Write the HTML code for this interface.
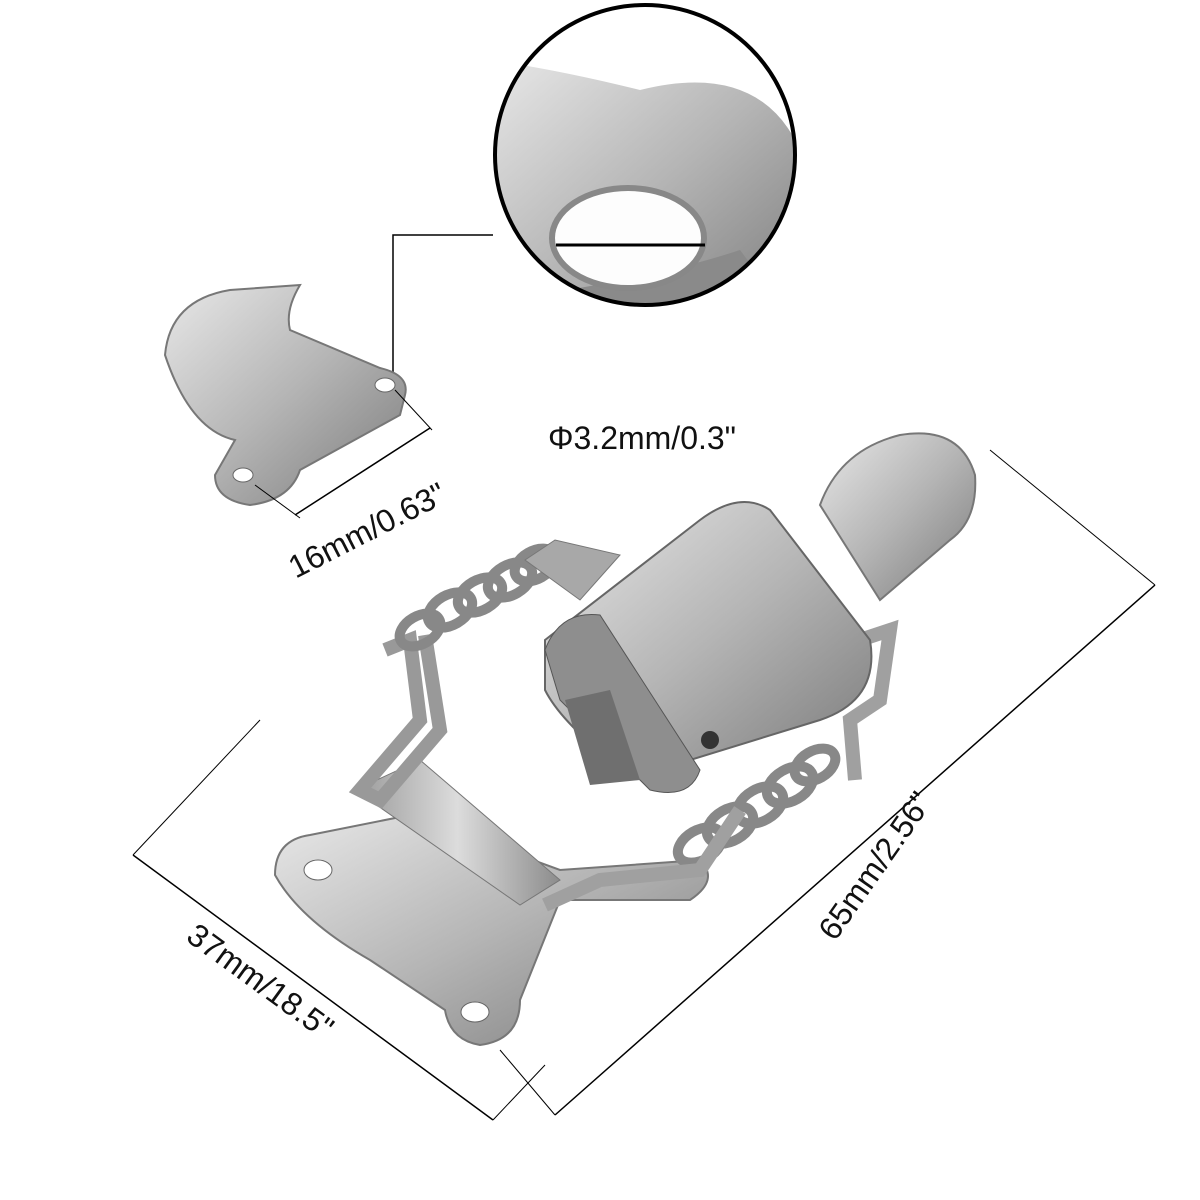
<!DOCTYPE html>
<html><head><meta charset="utf-8"><style>
html,body{margin:0;padding:0;background:#fff;}
svg{display:block;}
text{font-family:"Liberation Sans",sans-serif;fill:#111;}
</style></head><body>
<svg width="1200" height="1200" viewBox="0 0 1200 1200" xmlns="http://www.w3.org/2000/svg">
<defs>
<linearGradient id="m1" x1="0" y1="0" x2="1" y2="1">
<stop offset="0" stop-color="#e8e8e8"/><stop offset="0.5" stop-color="#b5b5b5"/><stop offset="1" stop-color="#7a7a7a"/></linearGradient>
<linearGradient id="m2" x1="0" y1="0" x2="1" y2="0">
<stop offset="0" stop-color="#9a9a9a"/><stop offset="0.5" stop-color="#dcdcdc"/><stop offset="1" stop-color="#8c8c8c"/></linearGradient>
<clipPath id="cc"><circle cx="645" cy="155" r="150"/></clipPath>
</defs>

<g clip-path="url(#cc)">
<rect x="490" y="0" width="320" height="320" fill="#fff"/>
<path d="M490 60 Q560 70 640 90 Q760 60 800 150 Q790 260 760 330 L490 330 Z" fill="url(#m1)"/>
<path d="M500 300 Q650 280 740 250 L800 330 L490 330Z" fill="#8a8a8a"/>
<ellipse cx="628" cy="238" rx="76" ry="50" fill="#fdfdfd"/>
<ellipse cx="628" cy="238" rx="76" ry="50" fill="none" stroke="#888" stroke-width="6"/>
<line x1="556" y1="245" x2="705" y2="245" stroke="#000" stroke-width="3"/>
</g>
<circle cx="645" cy="155" r="150" fill="none" stroke="#000" stroke-width="4"/>

<polyline points="493,235 393,235 393,380" fill="none" stroke="#000" stroke-width="1.5"/>
<circle cx="393" cy="380" r="4" fill="#000"/>

<path d="M165 355 Q170 300 230 290 L300 285 Q285 310 290 330 L380 368 Q410 375 405 395 L400 415 L300 470 Q290 500 250 505 Q215 500 215 475 L235 440 Q190 430 165 355Z" fill="url(#m1)" stroke="#777" stroke-width="2"/>
<ellipse cx="385" cy="385" rx="10" ry="7" fill="#fff" stroke="#666"/>
<ellipse cx="243" cy="475" rx="10" ry="7" fill="#fff" stroke="#666"/>
<line x1="295" y1="515" x2="430" y2="428" stroke="#000" stroke-width="1.5"/>
<line x1="255" y1="485" x2="300" y2="518" stroke="#000" stroke-width="1"/>
<line x1="395" y1="390" x2="432" y2="430" stroke="#000" stroke-width="1"/>

<text x="642" y="449" font-size="32" text-anchor="middle">Φ3.2mm/0.3"</text>
<text transform="translate(372,540) rotate(-27)" font-size="32" text-anchor="middle">16mm/0.63"</text>

<path d="M275 875 Q275 840 310 835 L410 815 L560 870 L700 860 Q720 880 690 900 L560 900 L520 1000 Q520 1040 480 1045 Q450 1040 445 1010 L370 960 Q300 920 275 875Z" fill="url(#m1)" stroke="#777" stroke-width="2"/>
<ellipse cx="318" cy="870" rx="14" ry="10" fill="#fff" stroke="#666"/>
<ellipse cx="475" cy="1012" rx="14" ry="10" fill="#fff" stroke="#666"/>
<path d="M355 790 L420 760 L560 880 L520 905Z" fill="url(#m2)" stroke="#777"/>
<path d="M385 650 L410 640 L420 720 L360 790 L380 800 L440 730 L425 635" fill="none" stroke="#999" stroke-width="14"/>
<g fill="none" stroke="#888" stroke-width="10">
<ellipse cx="420" cy="630" rx="22" ry="14" transform="rotate(-30 420 630)"/>
<ellipse cx="450" cy="610" rx="24" ry="15" transform="rotate(-30 450 610)"/>
<ellipse cx="480" cy="595" rx="24" ry="15" transform="rotate(-30 480 595)"/>
<ellipse cx="510" cy="580" rx="24" ry="15" transform="rotate(-30 510 580)"/>
<ellipse cx="535" cy="565" rx="22" ry="14" transform="rotate(-30 535 565)"/>
</g>
<g fill="none" stroke="#888" stroke-width="10">
<ellipse cx="700" cy="845" rx="24" ry="15" transform="rotate(-30 700 845)"/>
<ellipse cx="730" cy="825" rx="25" ry="16" transform="rotate(-30 730 825)"/>
<ellipse cx="760" cy="805" rx="25" ry="16" transform="rotate(-30 760 805)"/>
<ellipse cx="790" cy="785" rx="25" ry="16" transform="rotate(-30 790 785)"/>
<ellipse cx="815" cy="765" rx="22" ry="14" transform="rotate(-30 815 765)"/>
</g>
<path d="M545 905 L600 880 L700 870 L740 810 M830 690 L860 640 L890 630 L880 700 L850 720 L855 780" fill="none" stroke="#a0a0a0" stroke-width="14"/>
<path d="M820 505 Q840 450 900 435 Q960 425 975 475 Q978 520 950 540 L880 600Z" fill="url(#m1)" stroke="#777" stroke-width="2"/>
<path d="M545 640 L700 520 Q740 490 770 510 L870 640 Q880 700 820 720 L690 760 Q640 790 610 760 Q560 720 545 690Z" fill="url(#m1)" stroke="#666" stroke-width="2"/>
<path d="M545 650 Q560 610 600 615 L700 770 Q690 800 650 790 L560 700Z" fill="#8e8e8e" stroke="#555"/>
<path d="M565 700 L610 690 L640 780 L590 785Z" fill="#6f6f6f"/>
<ellipse cx="710" cy="740" rx="9" ry="9" fill="#333"/>
<path d="M525 560 L555 540 L620 555 L580 600 Z" fill="#a8a8a8" stroke="#777"/>

<line x1="133" y1="855" x2="493" y2="1120" stroke="#000" stroke-width="1.5"/>
<line x1="133" y1="855" x2="260" y2="720" stroke="#000" stroke-width="1"/>
<line x1="493" y1="1120" x2="545" y2="1065" stroke="#000" stroke-width="1"/>
<text transform="translate(254,990) rotate(36)" font-size="32" text-anchor="middle">37mm/18.5"</text>

<line x1="555" y1="1115" x2="1155" y2="585" stroke="#000" stroke-width="1.5"/>
<line x1="555" y1="1115" x2="500" y2="1050" stroke="#000" stroke-width="1"/>
<line x1="1155" y1="585" x2="990" y2="450" stroke="#000" stroke-width="1"/>
<text transform="translate(884,872) rotate(-55)" font-size="32" text-anchor="middle">65mm/2.56"</text>
</svg>
</body></html>
